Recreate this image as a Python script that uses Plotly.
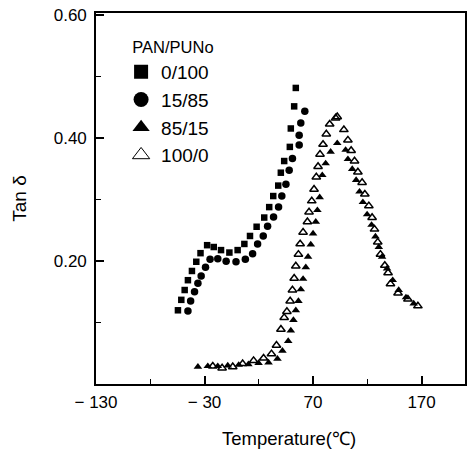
import plotly.graph_objects as go

# 0/100 (filled squares)
sq_T = [-54.5, -51.4, -48.3, -45.3, -41.6, -37.6, -33.7, -27.6, -21.5, -14.8, -7.1, 0.5, 6.7, 11.9,
        18.0, 25.0, 29.6, 33.3, 37.9, 40.3, 43.4, 48.6, 49.5, 52.6, 54.1]
sq_y = [0.120, 0.137, 0.153, 0.169, 0.184, 0.199, 0.213, 0.226, 0.223, 0.218, 0.214, 0.218, 0.228, 0.241,
        0.256, 0.271, 0.288, 0.306, 0.323, 0.344, 0.363, 0.386, 0.416, 0.452, 0.482]

# 15/85 (filled circles)
ci_T = [-45.3, -42.8, -39.2, -36.1, -33.1, -29.1, -24.9, -17.8, -10.1, -1.0, 7.6, 14.3, 18.9, 24.1,
        28.1, 33.6, 38.2, 41.2, 45.0, 48.0, 51.0, 57.2, 57.2, 58.7, 62.4]
ci_y = [0.119, 0.135, 0.150, 0.164, 0.176, 0.190, 0.203, 0.204, 0.200, 0.199, 0.203, 0.212, 0.228, 0.241,
        0.257, 0.272, 0.288, 0.306, 0.325, 0.348, 0.367, 0.389, 0.405, 0.425, 0.444]

# 85/15 (filled triangles)
ft_T = [-36.1, -27.0, -17.8, -8.6, 1.5, 10.4, 19.8, 29.0, 37.2, 41.8, 47.1, 49.5, 51.9, 54.1, 56.5,
        58.7, 60.8, 63.3, 65.4, 67.9, 70.0, 72.5, 74.0, 76.1, 78.5, 81.6, 86.2, 92.3, 100.0, 102.1,
        106.1, 109.7, 112.8, 115.9, 119.8, 123.9, 127.5, 130.6, 133.6, 138.2, 143.4, 148.9, 155.6, 162.7]
ft_y = [0.028, 0.029, 0.029, 0.030, 0.031, 0.032, 0.034, 0.035, 0.041, 0.054, 0.070, 0.087, 0.104, 0.120, 0.135,
        0.154, 0.171, 0.190, 0.207, 0.227, 0.245, 0.264, 0.283, 0.304, 0.340, 0.359, 0.378, 0.392, 0.381, 0.366,
        0.350, 0.332, 0.313, 0.296, 0.276, 0.259, 0.240, 0.223, 0.207, 0.188, 0.169, 0.153, 0.141, 0.131]

# 100/0 (open triangles)
ot_T = [-22.4, -13.8, -4.0, 5.1, 15.2, 24.4, 31.7, 36.3, 40.4, 43.4, 45.9, 48.9, 51.0, 52.6, 54.1,
        56.5, 58.1, 60.8, 64.8, 66.3, 68.8, 70.9, 73.0, 74.6, 76.4, 79.2, 82.2, 85.3, 90.8, 92.3,
        98.4, 102.1, 105.1, 108.2, 111.3, 115.2, 117.7, 121.4, 124.4, 126.6, 129.6, 132.1, 136.1,
        139.1, 141.3, 148.3, 157.4, 166.6]
ot_y = [0.029, 0.026, 0.028, 0.033, 0.038, 0.042, 0.049, 0.063, 0.089, 0.108, 0.118, 0.135, 0.153, 0.172, 0.192,
        0.211, 0.228, 0.247, 0.264, 0.280, 0.298, 0.317, 0.337, 0.354, 0.374, 0.390, 0.407, 0.423, 0.433, 0.435,
        0.414, 0.397, 0.380, 0.363, 0.345, 0.328, 0.309, 0.290, 0.271, 0.252, 0.231, 0.211, 0.193,
        0.181, 0.163, 0.148, 0.138, 0.127]

series_names = ["0/100", "15/85", "85/15", "100/0"]
x_tickvals = [-130, -30, 70, 170]
x_ticktext = ["\u2212 130", "\u2212 30", "70", "170"]
y_tickvals = [0.20, 0.40, 0.60]
y_ticktext = ["0.20", "0.40", "0.60"]

FONT = "Liberation Sans, Arial, Helvetica, sans-serif"

styles = [
    dict(symbol="square", size=6.5, color="black"),
    dict(symbol="circle", size=7.5, color="black"),
    dict(symbol="triangle-up", size=7.5, color="black"),
    dict(symbol="triangle-up-open", size=7.5, color="black", line=dict(width=1.5, color="black")),
]
legend_styles = [
    dict(symbol="square", size=14, color="black"),
    dict(symbol="circle", size=15, color="black"),
    dict(symbol="triangle-up", size=15, color="black"),
    dict(symbol="triangle-up-open", size=15, color="black", line=dict(width=1, color="black")),
]

fig = go.Figure()
data = [(sq_T, sq_y), (ci_T, ci_y), (ft_T, ft_y), (ot_T, ot_y)]
for (xs, ys), st in zip(data, styles):
    fig.add_trace(go.Scatter(x=xs, y=ys, mode="markers", marker=st, showlegend=False, hoverinfo="skip"))
for name, st in zip(series_names, legend_styles):
    fig.add_trace(go.Scatter(x=[None], y=[None], mode="markers", marker=st, name=name, showlegend=True))

axis_common = dict(showgrid=False, zeroline=False, showline=True, linecolor="black", linewidth=1.6,
                   mirror=True, ticks="inside", ticklen=8, tickwidth=1.5, tickcolor="black",
                   tickfont=dict(family=FONT, size=17, color="black"))

fig.update_xaxes(range=[-130, 210], tickvals=x_tickvals, ticktext=x_ticktext,
                 minor=dict(tickvals=[-80, 20, 120], ticks="inside", ticklen=5, tickwidth=1.3, tickcolor="black"),
                 ticklabelstandoff=2,
                 **axis_common)
fig.update_yaxes(range=[0, 0.604], tickvals=y_tickvals, ticktext=y_ticktext,
                 minor=dict(tickvals=[0.1, 0.3, 0.5], ticks="inside", ticklen=5, tickwidth=1.3, tickcolor="black"),
                 title=dict(text="Tan \u03b4", font=dict(family=FONT, size=19, color="black"), standoff=22),
                 ticklabelstandoff=4,
                 **axis_common)

fig.add_annotation(text="Temperature(\u2103)", xref="paper", yref="paper", x=0.523, y=-0.146,
                   xanchor="center", yanchor="middle", showarrow=False,
                   font=dict(family=FONT, size=18.5, color="black"))

fig.update_layout(
    width=470, height=450,
    margin=dict(l=96, r=3, t=13, b=66),
    paper_bgcolor="white", plot_bgcolor="white",
    legend=dict(x=0.068, y=0.95, xanchor="left", yanchor="top",
                title=dict(text="\u00a0\u00a0PAN/PUNo", font=dict(family=FONT, size=16.5, color="black")),
                font=dict(family=FONT, size=19, color="black"),
                bgcolor="rgba(0,0,0,0)", itemwidth=30),
)

fig.write_html("out.html")
